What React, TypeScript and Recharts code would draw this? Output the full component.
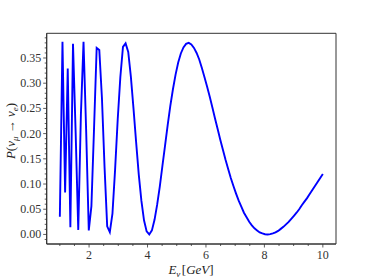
import React from 'react';
import { LineChart, Line, XAxis, YAxis, ReferenceArea } from 'recharts';

// neutrino energy in GeV (sampled every 0.09 GeV)
const energy = [
  1.0, 1.09, 1.18, 1.27, 1.36, 1.45, 1.54, 1.63, 1.72, 1.81,
  1.9, 1.99, 2.08, 2.17, 2.26, 2.35, 2.44, 2.53, 2.62, 2.71,
  2.8, 2.89, 2.98, 3.07, 3.16, 3.25, 3.34, 3.43, 3.52, 3.61,
  3.7, 3.79, 3.88, 3.97, 4.06, 4.15, 4.24, 4.33, 4.42, 4.51,
  4.6, 4.69, 4.78, 4.87, 4.96, 5.05, 5.14, 5.23, 5.32, 5.41,
  5.5, 5.59, 5.68, 5.77, 5.86, 5.95, 6.04, 6.13, 6.22, 6.31,
  6.4, 6.49, 6.58, 6.67, 6.76, 6.85, 6.94, 7.03, 7.12, 7.21,
  7.3, 7.39, 7.48, 7.57, 7.66, 7.75, 7.84, 7.93, 8.02, 8.11,
  8.2, 8.29, 8.38, 8.47, 8.56, 8.65, 8.74, 8.83, 8.92, 9.01,
  9.1, 9.19, 9.28, 9.37, 9.46, 9.55, 9.64, 9.73, 9.82, 9.91,
  10.0,
];

// P(nu_mu -> nu_e)
const prob = [
  0.035, 0.382, 0.083, 0.329, 0.0145, 0.378, 0.203, 0.009, 0.237, 0.382,
  0.206, 0.008, 0.056, 0.21, 0.37, 0.366, 0.271, 0.133, 0.016, 0.0045,
  0.041, 0.128, 0.228, 0.312, 0.372, 0.379, 0.362, 0.313, 0.25, 0.183,
  0.119, 0.067, 0.028, 0.006, 0.0, 0.008, 0.029, 0.059, 0.095, 0.136,
  0.176, 0.217, 0.255, 0.288, 0.317, 0.341, 0.359, 0.371, 0.378, 0.38,
  0.377, 0.37, 0.36, 0.347, 0.33, 0.312, 0.293, 0.273, 0.252, 0.23,
  0.209, 0.188, 0.168, 0.148, 0.13, 0.112, 0.096, 0.081, 0.067, 0.055,
  0.043, 0.034, 0.025, 0.018, 0.012, 0.008, 0.004, 0.002, 0.0004, 0.0,
  0.0005, 0.002, 0.004, 0.007, 0.011, 0.015, 0.02, 0.025, 0.031, 0.037,
  0.043, 0.05, 0.058, 0.065, 0.072, 0.08, 0.088, 0.096, 0.104, 0.112,
  0.12,
];

const xDomain = [0.55, 10.45];
const yDomain = [-0.019, 0.399];
const xMajor = [2, 4, 6, 8, 10];
const xTicks = [1, 1.5, 2, 2.5, 3, 3.5, 4, 4.5, 5, 5.5, 6, 6.5, 7, 7.5, 8, 8.5, 9, 9.5, 10];
const yMajor = [0, 0.05, 0.1, 0.15, 0.2, 0.25, 0.3, 0.35];
const yTicks = [
  -0.01, 0, 0.01, 0.02, 0.03, 0.04, 0.05, 0.06, 0.07, 0.08, 0.09,
  0.1, 0.11, 0.12, 0.13, 0.14, 0.15, 0.16, 0.17, 0.18, 0.19,
  0.2, 0.21, 0.22, 0.23, 0.24, 0.25, 0.26, 0.27, 0.28, 0.29,
  0.3, 0.31, 0.32, 0.33, 0.34, 0.35, 0.36, 0.37, 0.38, 0.39,
];

const data = energy.map((E, i) => ({ E, P: prob[i] }));

const FONT = '"Liberation Serif", "DejaVu Serif", serif';
const AXIS = '#333';

const XTick = (props: any) => {
  const { x, y, payload } = props;
  const v = payload.value;
  const major = xMajor.some((m) => Math.abs(m - v) < 1e-6);
  return (
    <g>
      <line x1={x} x2={x} y1={y} y2={y + (major ? 3.5 : 2)} stroke={AXIS} strokeWidth={0.8} />
      {major && (
        <text x={x} y={y + 14.5} textAnchor="middle" fontFamily={FONT} fontSize={12} fill="#333">
          {v}
        </text>
      )}
    </g>
  );
};

const YTick = (props: any) => {
  const { x, y, payload } = props;
  const v = payload.value;
  const major = yMajor.some((m) => Math.abs(m - v) < 1e-6);
  return (
    <g>
      <line x1={x - (major ? 3.5 : 2)} x2={x} y1={y} y2={y} stroke={AXIS} strokeWidth={0.8} />
      {major && (
        <text x={x - 5.5} y={y + 4} textAnchor="end" fontFamily={FONT} fontSize={12} fill="#333">
          {v.toFixed(2)}
        </text>
      )}
    </g>
  );
};

export default function App() {
  return (
    <div style={{ position: 'absolute', left: 0, top: 0, width: 374, height: 280, background: '#fff' }}>
      <LineChart width={374} height={280} data={data} margin={{ top: 33.3, right: 38, bottom: 16, left: 0 }}>
        <ReferenceArea
          x1={xDomain[0]}
          x2={xDomain[1]}
          y1={yDomain[0]}
          y2={yDomain[1]}
          fill="none"
          fillOpacity={0}
          stroke={AXIS}
          strokeWidth={1}
          ifOverflow="extendDomain"
        />
        <XAxis
          dataKey="E"
          type="number"
          domain={xDomain}
          ticks={xTicks}
          interval={0}
          tick={<XTick />}
          tickLine={false}
          tickSize={0}
          tickMargin={0}
          height={20}
          allowDataOverflow
          axisLine={{ stroke: AXIS, strokeWidth: 1 }}
        />
        <YAxis
          type="number"
          domain={yDomain}
          ticks={yTicks}
          interval={0}
          tick={<YTick />}
          tickLine={false}
          tickSize={0}
          tickMargin={0}
          width={46.7}
          allowDataOverflow
          axisLine={{ stroke: AXIS, strokeWidth: 1 }}
        />
        <Line
          type="linear"
          dataKey="P"
          stroke="#0000ff"
          strokeWidth={1.9}
          dot={false}
          isAnimationActive={false}
        />
      </LineChart>
      <svg width={374} height={280} style={{ position: 'absolute', left: 0, top: 0, pointerEvents: 'none' }}>
        <text transform="translate(15,131) rotate(-90)" textAnchor="middle" fontFamily={FONT} fontSize={13} fill="#222">
          <tspan fontStyle="italic">P</tspan>
          <tspan>(</tspan>
          <tspan fontStyle="italic">ν</tspan>
          <tspan fontStyle="italic" fontSize={9} dy={3}>μ</tspan>
          <tspan dy={-3}> → </tspan>
          <tspan fontStyle="italic">ν</tspan>
          <tspan fontStyle="italic" fontSize={9} dy={3}>e</tspan>
          <tspan dy={-3}>)</tspan>
        </text>
        <text x={191} y={274} textAnchor="middle" fontFamily={FONT} fontSize={13} fill="#222">
          <tspan fontStyle="italic">E</tspan>
          <tspan fontStyle="italic" fontSize={9} dy={3}>ν</tspan>
          <tspan dy={-3} dx={1.5}>[</tspan>
          <tspan fontStyle="italic">GeV</tspan>
          <tspan>]</tspan>
        </text>
      </svg>
    </div>
  );
}
